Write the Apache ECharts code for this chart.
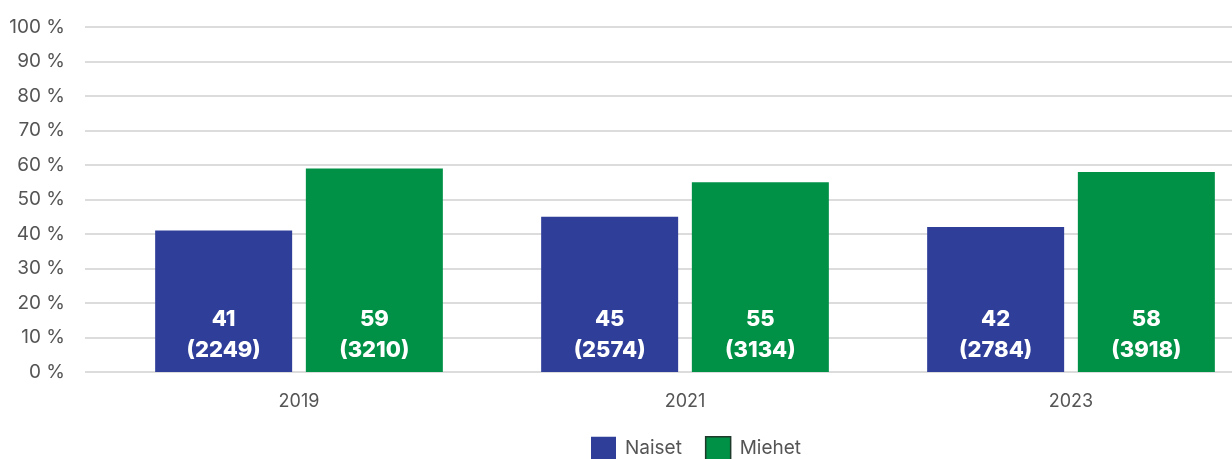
<!DOCTYPE html>
<html>
<head>
<meta charset="utf-8">
<script src="https://cdn.jsdelivr.net/npm/echarts@6/dist/echarts.min.js"></script>
<style>html,body{margin:0;padding:0;background:#fff;}#c{width:1232px;height:459px;}</style>
</head>
<body>
<div id="c"></div>
<script>
const categories = ['2019', '2021', '2023'];
const naisetPct = [41, 45, 42];
const naisetN = [2249, 2574, 2784];
const miehetPct = [59, 55, 58];
const miehetN = [3210, 3134, 3918];
const seriesNames = ['Naiset', 'Miehet'];

const chart = echarts.init(document.getElementById('c'));
const labelStyle = function (counts) {
  return {
    show: true,
    position: 'insideBottom',
    distance: 6,
    color: '#fff',
    fontFamily: 'Inter',
    fontWeight: 800,
    fontSize: 22,
    lineHeight: 31,
    formatter: function (p) { return p.value + '\n(' + counts[p.dataIndex] + ')'; }
  };
};
chart.setOption({
  animation: false,
  legend: {
    left: 591,
    top: 436,
    padding: 0,
    icon: 'rect',
    itemWidth: 25,
    itemHeight: 23,
    itemGap: 23,
    textStyle: { fontFamily: 'Inter', fontSize: 19, color: '#555', padding: [0, 0, 0, 4] },
    data: [
      { name: seriesNames[0], itemStyle: { borderWidth: 0 } },
      { name: seriesNames[1], itemStyle: { borderColor: '#1f3a2a', borderWidth: 1.5 } }
    ]
  },
  grid: [
    { left: 85, right: 0, top: 27, height: 345, outerBoundsMode: 'none' },
    { left: 106, width: 1158, top: 27, height: 345, outerBoundsMode: 'none' }
  ],
  xAxis: [
    { gridIndex: 0, type: 'value', show: false, min: 0, max: 1 },
    {
      gridIndex: 1, type: 'category', data: categories,
      axisLine: { show: false }, axisTick: { show: false },
      axisLabel: { margin: 21, fontFamily: 'Inter', fontSize: 18, color: '#555' }
    }
  ],
  yAxis: [
    {
      gridIndex: 0, type: 'value', min: 0, max: 100, interval: 10,
      axisLine: { show: false }, axisTick: { show: false },
      axisLabel: { margin: 20, fontFamily: 'Inter', fontSize: 19, color: '#555', formatter: '{value} %' },
      splitLine: { lineStyle: { color: '#dcdcdc', width: 2 } }
    },
    { gridIndex: 1, type: 'value', min: 0, max: 100, show: false }
  ],
  series: [
    {
      name: seriesNames[0], type: 'bar', xAxisIndex: 1, yAxisIndex: 1,
      data: naisetPct, barWidth: 137, barGap: '10%',
      itemStyle: { color: '#2f3f99' },
      label: labelStyle(naisetN)
    },
    {
      name: seriesNames[1], type: 'bar', xAxisIndex: 1, yAxisIndex: 1,
      data: miehetPct, barWidth: 137, barGap: '10%',
      itemStyle: { color: '#009147' },
      label: labelStyle(miehetN)
    }
  ]
});
</script>
</body>
</html>
